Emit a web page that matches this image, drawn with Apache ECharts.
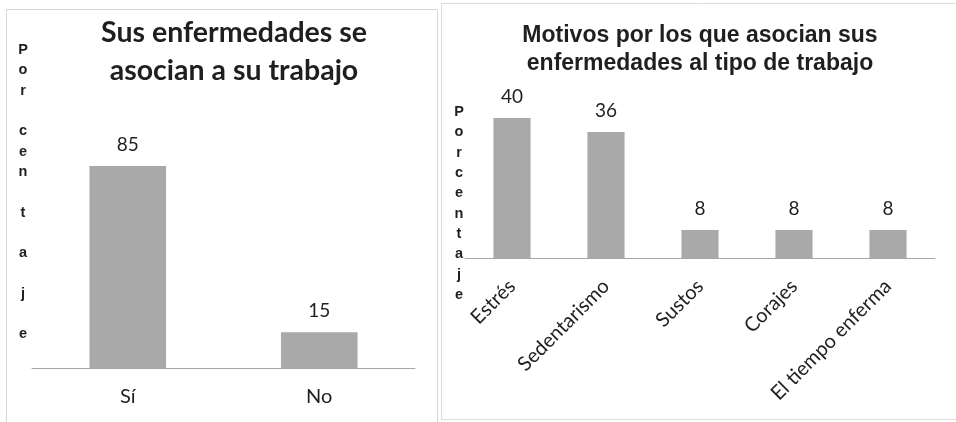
<!DOCTYPE html>
<html>
<head>
<meta charset="utf-8">
<script src="https://cdn.jsdelivr.net/npm/echarts@6/dist/echarts.min.js"></script>
<style>
  html, body { margin: 0; padding: 0; background: #ffffff; }
  #chart { width: 956px; height: 422px; }
</style>
</head>
<body>
<div id="chart"></div>
<script>
// Left chart: whether illnesses are associated with work
const asociaCategories = ['Sí', 'No'];
const asociaValues = [85, 15];

// Right chart: reasons given for the association
const motivoCategories = ['Estrés', 'Sedentarismo', 'Sustos', 'Corajes', 'El tiempo enferma'];
const motivoValues = [40, 36, 8, 8, 8];

const leftTitle = 'Sus enfermedades se\nasocian a su trabajo';
const rightTitle = 'Motivos por los que asocian sus\nenfermedades al tipo de trabajo';
const leftAxisName = 'P\no\nr\n\nc\ne\nn\n\nt\n\na\n\nj\n\ne';
const rightAxisName = 'P\no\nr\nc\ne\nn\nt\na\nj\ne';

const calibriLike = 'Lato, "Open Sans", sans-serif';
const arialLike = '"Liberation Sans", Arial, sans-serif';
const barColor = '#a9a9a9';
const axisColor = '#a6a6a6';
const textColor = '#1f1f1f';

const chart = echarts.init(document.getElementById('chart'), null, { renderer: 'canvas' });

chart.setOption({
  backgroundColor: '#ffffff',
  animation: false,
  title: [
    {
      text: leftTitle,
      left: 234, top: 14, padding: 0, textAlign: 'center',
      textStyle: { fontFamily: calibriLike, fontWeight: 'bold', fontSize: 28.5, lineHeight: 38, color: textColor }
    },
    {
      text: rightTitle,
      left: 700, top: 22, padding: 0, textAlign: 'center',
      textStyle: { fontFamily: arialLike, fontWeight: 'bold', fontSize: 23, lineHeight: 28, color: textColor }
    }
  ],
  graphic: [
    { type: 'rect', silent: true, shape: { x: 6.5, y: 9.5, width: 431, height: 420 },
      style: { fill: 'none', stroke: '#d6d6d6', lineWidth: 1 } },
    { type: 'rect', silent: true, shape: { x: 441.5, y: 3.5, width: 520, height: 416 },
      style: { fill: 'none', stroke: '#dcdcdc', lineWidth: 1 } },
    { type: 'text', silent: true, x: 23, y: 40,
      style: { text: leftAxisName, fontFamily: arialLike, fontWeight: 'bold', fontSize: 14.5,
               lineHeight: 20.3, fill: textColor, align: 'center' } },
    { type: 'text', silent: true, x: 459, y: 102,
      style: { text: rightAxisName, fontFamily: arialLike, fontWeight: 'bold', fontSize: 14.5,
               lineHeight: 20.3, fill: textColor, align: 'center' } }
  ],
  grid: [
    { left: 32, width: 383, top: 154.2, bottom: 54, containLabel: false },
    { left: 465, width: 470, top: 100.5, bottom: 164, containLabel: false }
  ],
  xAxis: [
    {
      type: 'category', gridIndex: 0, data: asociaCategories,
      axisLine: { lineStyle: { color: axisColor, width: 1 } },
      axisTick: { show: false },
      axisLabel: { color: textColor, fontFamily: calibriLike, fontSize: 20, margin: 19 }
    },
    {
      type: 'category', gridIndex: 1, data: motivoCategories,
      axisLine: { lineStyle: { color: axisColor, width: 1 } },
      axisTick: { show: false },
      axisLabel: { color: textColor, fontFamily: calibriLike, fontSize: 20, rotate: 45, margin: 25, interval: 0 }
    }
  ],
  yAxis: [
    { type: 'value', gridIndex: 0, min: 0, max: 90, show: false },
    { type: 'value', gridIndex: 1, min: 0, max: 45, show: false }
  ],
  series: [
    {
      type: 'bar', xAxisIndex: 0, yAxisIndex: 0, data: asociaValues,
      barWidth: '40%',
      itemStyle: { color: barColor },
      label: { show: true, position: 'top', distance: 12, color: textColor, fontFamily: calibriLike, fontSize: 19 }
    },
    {
      type: 'bar', xAxisIndex: 1, yAxisIndex: 1, data: motivoValues,
      barWidth: '39.5%',
      itemStyle: { color: barColor },
      label: { show: true, position: 'top', distance: 12, color: textColor, fontFamily: calibriLike, fontSize: 19 }
    }
  ]
});
</script>
</body>
</html>
